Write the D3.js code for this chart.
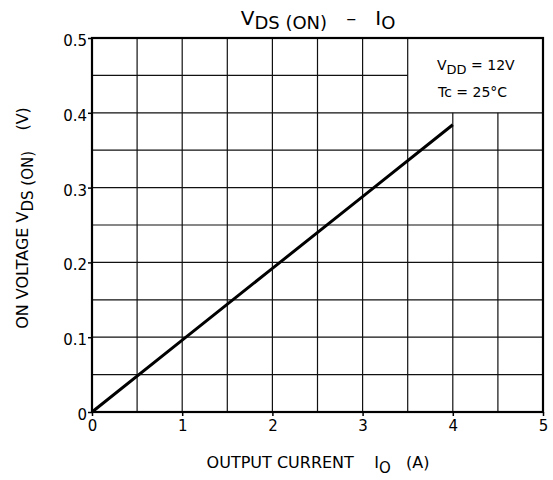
<!DOCTYPE html>
<html><head><meta charset="utf-8">
<script src="https://cdn.jsdelivr.net/npm/d3@7"></script>
<style>body{margin:0;background:#fff}text{font-family:"DejaVu Sans",sans-serif;fill:#000;white-space:pre}</style>
</head><body><svg id="c" width="553" height="480"></svg>
<script>
const currentA = [0, 1, 2, 3, 4];
const vdsOn = [0, 0.096, 0.192, 0.288, 0.384];
const xTicks = [0, 1, 2, 3, 4, 5];
const yTicks = [0, 0.1, 0.2, 0.3, 0.4, 0.5];
const yTickLabels = ["0", "0.1", "0.2", "0.3", "0.4", "0.5"];

const svg = d3.select("#c");
const L = 92, R = 543, T = 38, B = 412;
const x = d3.scaleLinear().domain([0, 5]).range([L, R]);
const y = d3.scaleLinear().domain([0, 0.5]).range([B, T]);
const g = svg.append("g");

// grid (blank legend region x 3.5..5, y 0.4..0.5)
const xg = d3.range(0.5, 5, 0.5);
const yg = d3.range(0.05, 0.5, 0.05).map(v => +v.toFixed(2));
xg.forEach(v => {
  const top = v > 3.5 + 1e-9 ? y(0.4) : T;
  g.append("line").attr("x1", x(v)).attr("x2", x(v)).attr("y1", top).attr("y2", B)
    .attr("stroke", "#111").attr("stroke-width", 1.2);
});
yg.forEach(v => {
  const right = v > 0.4 + 1e-9 ? x(3.5) : R;
  g.append("line").attr("x1", L).attr("x2", right).attr("y1", y(v)).attr("y2", y(v))
    .attr("stroke", "#111").attr("stroke-width", 1.2);
});

// axes
const FF = '"DejaVu Sans",sans-serif';
const xAxis = d3.axisBottom(x).tickValues(xTicks).tickSize(4).tickFormat(d3.format("d"));
const yAxis = d3.axisLeft(y).tickValues(yTicks).tickSize(4).tickFormat((d, i) => yTickLabels[i]);
const xa = svg.append("g").attr("transform", `translate(0,${B})`).call(xAxis);
const ya = svg.append("g").attr("transform", `translate(${L},0)`).call(yAxis);
[xa, ya].forEach(a => {
  a.attr("font-size", null).attr("font-family", null);
  a.select(".domain").remove();
  a.selectAll("line").attr("stroke", "#000").attr("stroke-width", 1.5);
  a.selectAll("text").style("font-size", "15px").style("font-family", FF).attr("fill", "#000");
});
xa.selectAll("text").attr("dy", "0").attr("y", 19);
ya.selectAll("text").attr("x", -5).attr("dy", "0.5em");

// frame
svg.append("rect").attr("x", L).attr("y", T).attr("width", R - L).attr("height", B - T)
  .attr("fill", "none").attr("stroke", "#000").attr("stroke-width", 2.2);

// data line
const line = d3.line().x((d, i) => x(currentA[i])).y((d, i) => y(vdsOn[i]));
svg.append("path").datum(vdsOn).attr("d", line).attr("fill", "none")
  .attr("stroke", "#000").attr("stroke-width", 3);

// title
const t = svg.append("text").attr("x", 318).attr("y", 25).attr("text-anchor", "middle").style("font-size", "20px");
t.append("tspan").text("V");
t.append("tspan").attr("dy", 4).style("font-size", "18px").text("DS (ON)");
t.append("tspan").attr("dy", -4).text("   –   ");
t.append("tspan").text("I");
t.append("tspan").attr("dy", 4).style("font-size", "18px").text("O");

// legend text
const l1 = svg.append("text").attr("x", 437).attr("y", 70).style("font-size", "14px");
l1.append("tspan").text("V");
l1.append("tspan").attr("dy", 4).style("font-size", "13px").text("DD");
l1.append("tspan").attr("dy", -4).text(" = 12V");
svg.append("text").attr("x", 438).attr("y", 97).style("font-size", "14px").text("Tc = 25°C");

// x label
const xl = svg.append("text").attr("x", 318).attr("y", 468).attr("text-anchor", "middle").style("font-size", "16px");
xl.append("tspan").text("OUTPUT CURRENT    I");
xl.append("tspan").attr("dy", 5).style("font-size", "15px").text("O");
xl.append("tspan").attr("dy", -5).text("   (A)");

// y label
const yl = svg.append("text").attr("transform", `translate(28,218) rotate(-90)`).attr("text-anchor", "middle").style("font-size", "16px");
yl.append("tspan").text("ON VOLTAGE V");
yl.append("tspan").attr("dy", 5).style("font-size", "15px").text("DS (ON)");
yl.append("tspan").attr("dy", -5).text("    (V)");
</script></body></html>
